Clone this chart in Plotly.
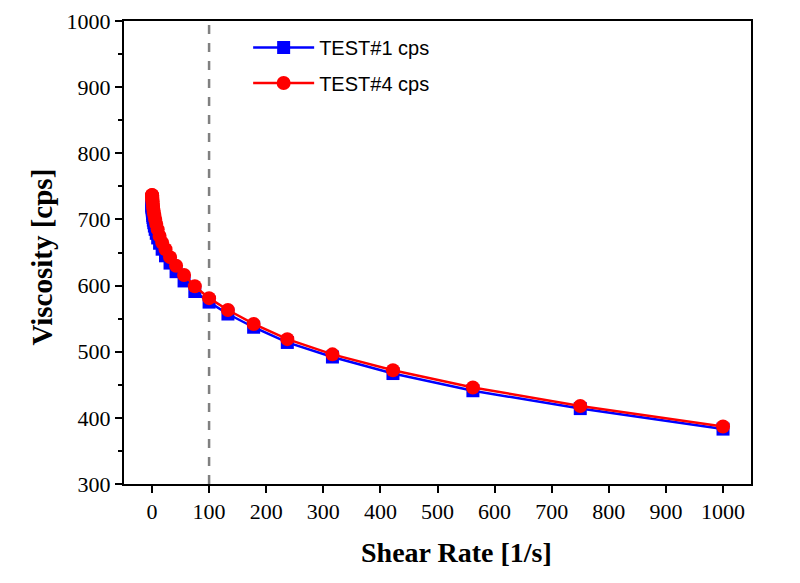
import plotly.graph_objects as go

shear_rate = [0.1, 0.133, 0.178, 0.237, 0.316, 0.422, 0.562, 0.75, 1.0, 1.33, 1.78, 2.37,
              3.16, 4.22, 5.62, 7.5, 10.0, 13.3, 17.8, 23.7, 31.6, 42.2, 56.2, 75.0,
              100.0, 133.0, 178.0, 237.0, 316.0, 422.0, 562.0, 750.0, 1000.0]
test1_cps = [722, 721, 720, 719, 718, 716, 714, 712, 709, 706, 703, 699,
             695, 690, 685, 679, 672, 664, 655, 645, 634, 621, 607, 591,
             575, 557, 537, 514, 492, 467, 441, 414, 383]
test4_cps = [737, 736.5, 736, 735.5, 734.5, 733, 731.5, 729.5, 727, 724, 720, 716,
             711, 706, 700, 693, 685, 675, 665, 655, 643, 630, 616, 599,
             581, 563, 542, 519, 496, 472, 446, 418, 387]
x_ticks = [0, 100, 200, 300, 400, 500, 600, 700, 800, 900, 1000]
y_ticks = [300, 400, 500, 600, 700, 800, 900, 1000]
ref_line_x = 100

fig = go.Figure()
fig.add_trace(go.Scatter(
    x=shear_rate, y=test1_cps, mode="lines+markers", name="TEST#1 cps",
    line=dict(color="#0000ff", width=2.5),
    marker=dict(symbol="square", size=13, color="#0000ff"),
    legend="legend"))
fig.add_trace(go.Scatter(
    x=shear_rate, y=test4_cps, mode="lines+markers", name="TEST#4 cps",
    line=dict(color="#ff0000", width=2.5),
    marker=dict(symbol="circle", size=14, color="#ff0000"),
    legend="legend2"))

fig.add_shape(type="line", x0=ref_line_x, x1=ref_line_x, y0=0, y1=1,
              xref="x", yref="paper",
              line=dict(color="#808080", width=2.5, dash="dash"), layer="below")

serif = "Liberation Serif, Times New Roman, serif"
sans = "Liberation Sans, Arial, sans-serif"

fig.add_annotation(text="<b>Shear Rate [1/s]</b>", xref="paper", yref="paper",
                   x=0.531, y=-0.147, xanchor="center", yanchor="middle", showarrow=False,
                   font=dict(family=serif, size=28, color="black"))
fig.add_annotation(text="<b>Viscosity [cps]</b>", xref="paper", yref="paper",
                   x=-0.13, y=0.49, xanchor="center", yanchor="middle", showarrow=False,
                   textangle=-90, font=dict(family=serif, size=29, color="black"))

fig.update_layout(
    width=800, height=583,
    showlegend=True,
    margin=dict(l=124, r=49, t=21, b=99),
    paper_bgcolor="white", plot_bgcolor="white",
    font=dict(family=serif, color="black"),
    legend=dict(x=0.198, y=0.943, xanchor="left", yanchor="middle", itemwidth=61,
                bgcolor="rgba(0,0,0,0)", font=dict(family=sans, size=20)),
    legend2=dict(x=0.198, y=0.866, xanchor="left", yanchor="middle", itemwidth=61,
                 bgcolor="rgba(0,0,0,0)", font=dict(family=sans, size=20)),
    xaxis=dict(
        range=[-49, 1049], tickvals=x_ticks, ticktext=[str(v) for v in x_ticks],
        ticks="outside", ticklen=7, tickwidth=1.5, tickcolor="black",
        showline=True, linecolor="black", linewidth=2, mirror=True,
        showgrid=False, zeroline=False, automargin=False,
        tickfont=dict(family=serif, size=22),
    ),
    yaxis=dict(
        range=[300, 1000], tickvals=y_ticks, ticktext=[str(v) for v in y_ticks],
        ticks="outside", ticklen=7, tickwidth=1.5, tickcolor="black",
        showline=True, linecolor="black", linewidth=2, mirror=True,
        showgrid=False, zeroline=False, automargin=False,
        minor=dict(dtick=50, ticks="outside", ticklen=4, tickcolor="black", showgrid=False),
        tickfont=dict(family=serif, size=22),
    ),
)

fig.write_html("out.html")
